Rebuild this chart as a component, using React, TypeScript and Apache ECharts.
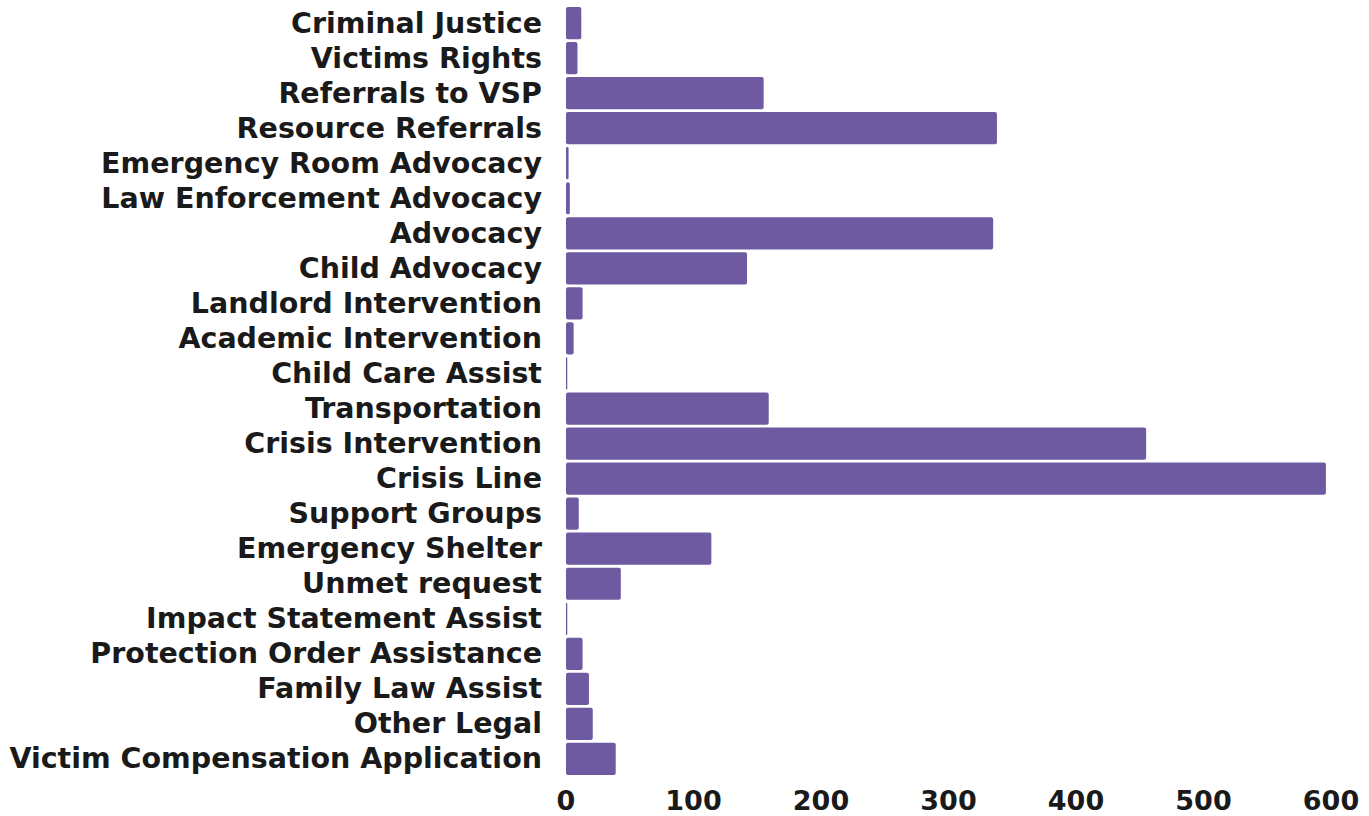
import React, { useEffect, useRef } from "react";
import * as echarts from "echarts";

const categories = [
  "Criminal Justice",
  "Victims Rights",
  "Referrals to VSP",
  "Resource Referrals",
  "Emergency Room Advocacy",
  "Law Enforcement Advocacy",
  "Advocacy",
  "Child Advocacy",
  "Landlord Intervention",
  "Academic Intervention",
  "Child Care Assist",
  "Transportation",
  "Crisis Intervention",
  "Crisis Line",
  "Support Groups",
  "Emergency Shelter",
  "Unmet request",
  "Impact Statement Assist",
  "Protection Order Assistance",
  "Family Law Assist",
  "Other Legal",
  "Victim Compensation Application",
];

const values = [12, 9, 155, 338, 2, 3, 335, 142, 13, 6, 1, 159, 455, 596, 10, 114, 43, 1, 13, 18, 21, 39];

const xTicks = [0, 100, 200, 300, 400, 500, 600];

export default function App() {
  const ref = useRef<HTMLDivElement>(null);
  useEffect(() => {
    const chart = echarts.init(ref.current!, null, { renderer: "svg" });
    const font = "DejaVu Sans";
    chart.setOption({
      animation: false,
      grid: { left: 566, right: 38, top: 5.5, bottom: 39.5, containLabel: false },
      xAxis: {
        type: "value",
        min: xTicks[0],
        max: xTicks[xTicks.length - 1],
        interval: 100,
        splitLine: { show: false },
        axisLine: { show: false },
        axisTick: { show: false },
        axisLabel: {
          color: "#1a1a1a",
          fontFamily: font,
          fontWeight: "bold",
          fontSize: 27,
          margin: 10,
        },
      },
      yAxis: {
        type: "category",
        inverse: true,
        data: categories,
        axisLine: { show: false },
        axisTick: { show: false },
        axisLabel: {
          interval: 0,
          hideOverlap: false,
          color: "#1a1a1a",
          fontFamily: font,
          fontWeight: "bold",
          fontSize: 28.5,
          margin: 24,
          padding: [0, 0, 3, 0],
        },
      },
      series: [
        {
          type: "bar",
          data: values,
          barCategoryGap: "8%",
          itemStyle: {
            color: "#6e5aa0",
            borderRadius: 2,
          },
        },
      ],
    });
    return () => chart.dispose();
  }, []);
  return (
    <div
      ref={ref}
      style={{ position: "fixed", left: 0, top: 0, width: 1369, height: 816, background: "#fff" }}
    />
  );
}
